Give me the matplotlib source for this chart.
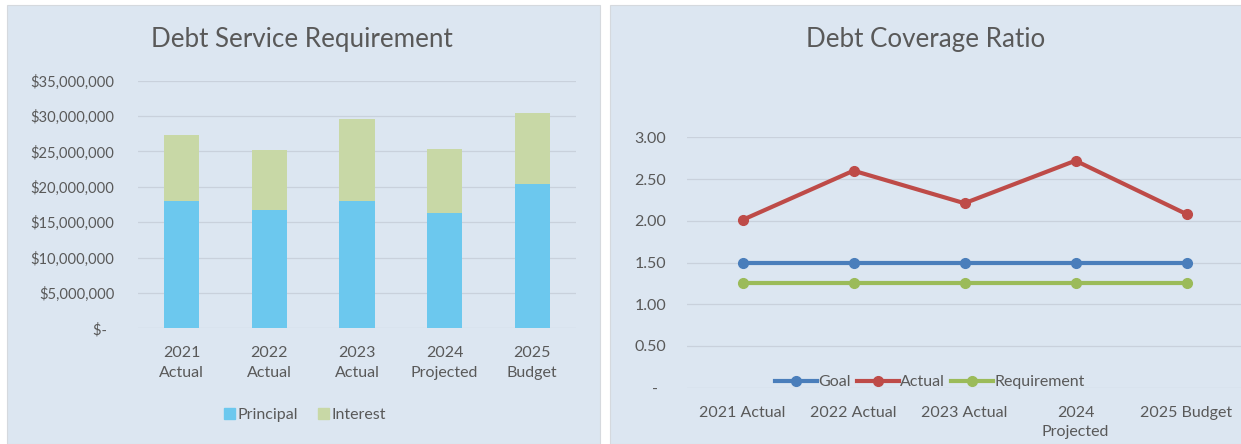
import matplotlib
matplotlib.use("Agg")
import matplotlib.pyplot as plt
from matplotlib.patches import Rectangle, Patch
from matplotlib.ticker import FuncFormatter, MultipleLocator

plt.rcParams['font.family'] = ['Lato', 'DejaVu Sans']

# Debt service data
years = ["2021\nActual", "2022\nActual", "2023\nActual", "2024\nProjected", "2025\nBudget"]
principal = [18.0e6, 16.7e6, 18.0e6, 16.3e6, 20.4e6]
interest = [9.3e6, 8.45e6, 11.6e6, 9.0e6, 10.1e6]

# Coverage ratio data
ratio_labels = ["2021 Actual", "2022 Actual", "2023 Actual", "2024\nProjected", "2025 Budget"]
goal = [1.50, 1.50, 1.50, 1.50, 1.50]
actual = [2.01, 2.60, 2.21, 2.72, 2.08]
requirement = [1.25, 1.25, 1.25, 1.25, 1.25]

BG = "#dce6f1"
GRID = "#c9d1dc"
TXT = "#595959"
C_PRIN = "#6cc8ee"
C_INT = "#c8d8a6"
C_GOAL = "#4a7ebb"
C_ACT = "#be4b48"
C_REQ = "#9bbb59"

W, H = 1241, 444
fig = plt.figure(figsize=(W / 100, H / 100), dpi=100, facecolor="white")


def fx(px):
    return px / W


def fy(py):
    return 1 - py / H


# panel backgrounds
fig.patches.append(Rectangle((fx(7), 0), fx(600 - 7), fy(5), transform=fig.transFigure,
                             facecolor=BG, edgecolor="#d5d9de", lw=0.8, zorder=-5))
fig.patches.append(Rectangle((fx(610), 0), fx(W - 610 + 5), fy(5), transform=fig.transFigure,
                             facecolor=BG, edgecolor="#d5d9de", lw=0.8, zorder=-5))

# ---- Debt Service Requirement ----
ax1 = fig.add_axes([fx(138), fy(328.3), fx(438), (328.3 - 80.7) / H])
ax1.set_zorder(2)
ax1.set_facecolor("none")
x = list(range(len(years)))
ax1.bar(x, principal, width=0.4, color=C_PRIN, label="Principal", zorder=3)
ax1.bar(x, interest, width=0.4, bottom=principal, color=C_INT, label="Interest", zorder=3)
ax1.set_xlim(-0.5, len(years) - 0.5)
ax1.set_ylim(0, 35e6)
ax1.yaxis.set_major_locator(MultipleLocator(5e6))


def money(v, pos):
    if abs(v) < 1:
        return "$-  "
    return "${:,.0f}".format(v)


ax1.yaxis.set_major_formatter(FuncFormatter(money))
ax1.grid(axis="y", color=GRID, lw=0.9, zorder=0)
ax1.set_axisbelow(True)
for s in ax1.spines.values():
    s.set_visible(False)
ax1.tick_params(length=0, colors=TXT, labelsize=10.6)
ax1.tick_params(axis="y", pad=17)
ax1.tick_params(axis="x", pad=13, labelsize=11.5)
ax1.set_xticks(x)
ax1.set_xticklabels(years, linespacing=1.5)
fig.text(fx(302), fy(40), "Debt Service Requirement", ha="center", va="center",
         fontsize=18.7, color=TXT)
fig.legend(handles=[Patch(color=C_PRIN, label="Principal"), Patch(color=C_INT, label="Interest")],
           loc="center", bbox_to_anchor=(fx(305), fy(415)), ncol=2, frameon=False,
           fontsize=11.5, handlelength=0.7, handleheight=0.7, handletextpad=0.2,
           columnspacing=1.2, labelcolor=TXT)

# ---- Debt Coverage Ratio ----
ax2 = fig.add_axes([fx(687), fy(387.7), fx(555), (387.7 - 137.3) / H])
ax2.set_zorder(2)
ax2.set_facecolor("none")
xr = list(range(len(ratio_labels)))
lw, ms = 3.0, 7
ax2.plot(xr, goal, color=C_GOAL, lw=lw, marker="o", ms=ms, label="Goal", zorder=3)
ax2.plot(xr, actual, color=C_ACT, lw=lw, marker="o", ms=ms, label="Actual", zorder=4)
ax2.plot(xr, requirement, color=C_REQ, lw=lw, marker="o", ms=ms, label="Requirement", zorder=3)
ax2.set_xlim(-0.5, len(ratio_labels) - 0.5)
ax2.set_ylim(0, 3.0)
ax2.yaxis.set_major_locator(MultipleLocator(0.5))


def ratio(v, pos):
    if abs(v) < 1e-9:
        return "-  "
    return "{:.2f}".format(v)


ax2.yaxis.set_major_formatter(FuncFormatter(ratio))
ax2.grid(axis="y", color=GRID, lw=0.9, zorder=0)
ax2.set_axisbelow(True)
for s in ax2.spines.values():
    s.set_visible(False)
ax2.tick_params(length=0, colors=TXT, labelsize=11.5)
ax2.tick_params(axis="y", pad=15)
ax2.tick_params(axis="x", pad=13)
ax2.set_xticks(xr)
ax2.set_xticklabels(ratio_labels, linespacing=1.5)
fig.text(fx(926), fy(40), "Debt Coverage Ratio", ha="center", va="center",
         fontsize=18.7, color=TXT)
ax2.legend(loc="center", bbox_to_anchor=(fx(930), fy(382)), bbox_transform=fig.transFigure,
           ncol=3, frameon=False, fontsize=11.5, handlelength=2.6, handletextpad=0.1,
           columnspacing=0.4, labelcolor=TXT)

fig.savefig("out.png", dpi=100, facecolor="white")
